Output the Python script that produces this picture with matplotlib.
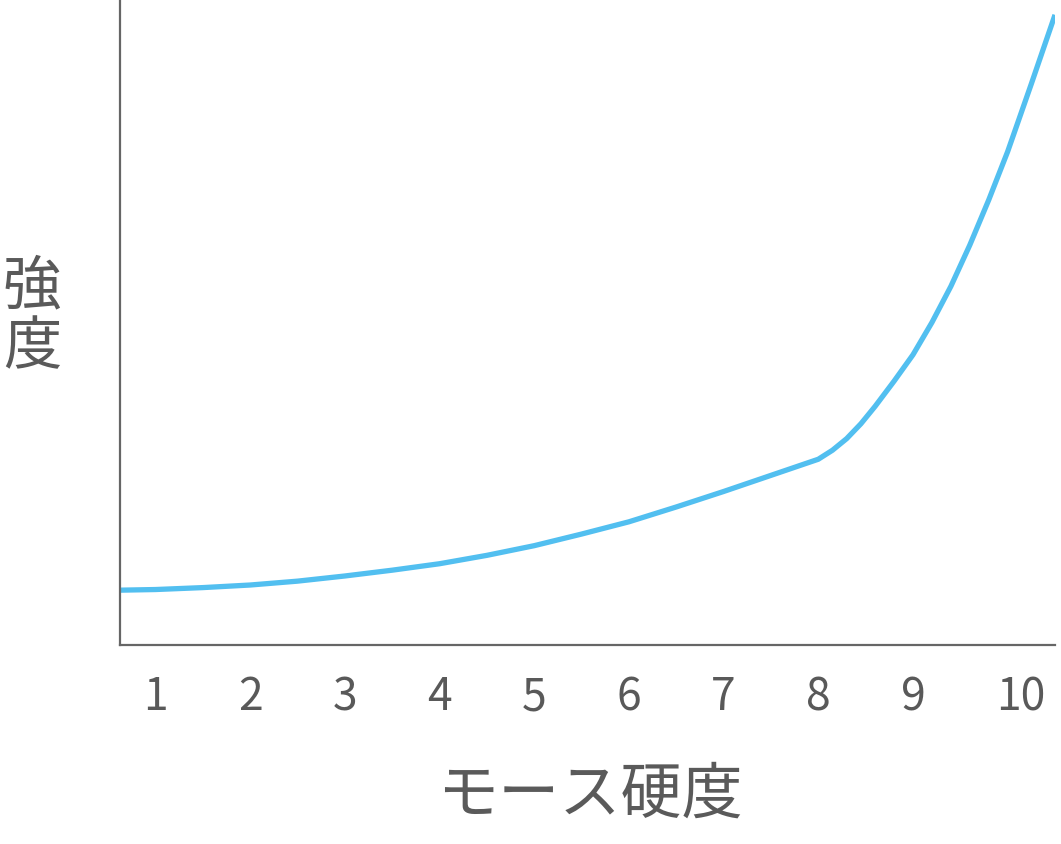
import matplotlib
matplotlib.use('Agg')
import matplotlib.pyplot as plt
import matplotlib.transforms as mtransforms

# values (hardness vs. relative strength)
hardness = [0.625, 1.0, 1.5, 2.0, 2.5, 3.0, 3.5, 4.0, 4.5, 5.0, 5.5, 6.0,
            6.5, 7.0, 7.5, 8.0, 8.15, 8.3, 8.45, 8.6, 8.8, 9.0, 9.2, 9.4,
            9.6, 9.8, 10.0, 10.25, 10.5]
strength = [8.5, 8.6, 8.9, 9.3, 9.9, 10.7, 11.6, 12.6, 13.9, 15.4, 17.2, 19.1,
            21.4, 23.8, 26.3, 28.8, 30.2, 32.0, 34.3, 37.0, 40.9, 45.0, 50.0, 55.6,
            62.0, 69.0, 76.5, 87.0, 97.7]
tick_vals = [1, 2, 3, 4, 5, 6, 7, 8, 9, 10]
tick_labels = ['1', '2', '3', '4', '5', '6', '7', '8', '9', '10']

plt.rcParams['font.family'] = ['Noto Sans CJK JP', 'DejaVu Sans']

fig = plt.figure(figsize=(10.61, 8.44), dpi=100)
ax = fig.add_axes([120/1061, 1-645/844, 935/1061, 645/844])

ax.plot(hardness, strength, color='#52bff0', linewidth=3.8,
        solid_joinstyle='round', solid_capstyle='butt')

ax.set_xlim(0.625, 10.5)
ax.set_ylim(0, 100)
for s in ['top', 'right']:
    ax.spines[s].set_visible(False)
for s in ['left', 'bottom']:
    ax.spines[s].set_color('#666666')
    ax.spines[s].set_linewidth(1.6)

ax.set_yticks([])
ax.set_xticks(tick_vals)
ax.set_xticklabels(tick_labels)
ax.tick_params(axis='x', length=0, pad=21, labelsize=32, labelcolor='#595959')
# the "10" label sits a bit right of its slot in the reference
lbl10 = ax.get_xticklabels()[-1]
lbl10.set_transform(lbl10.get_transform() + mtransforms.ScaledTranslation(13/100, 0, fig.dpi_scale_trans))

fig.text(590/1061, 1-795/844, 'モース硬度', ha='center', va='center',
         fontsize=44, color='#5a5a5a')
fig.text(32/1061, 1-317/844, '強\n度', ha='center', va='center',
         fontsize=42, color='#5a5a5a', linespacing=1.0)

fig.savefig('out.png', dpi=100)
